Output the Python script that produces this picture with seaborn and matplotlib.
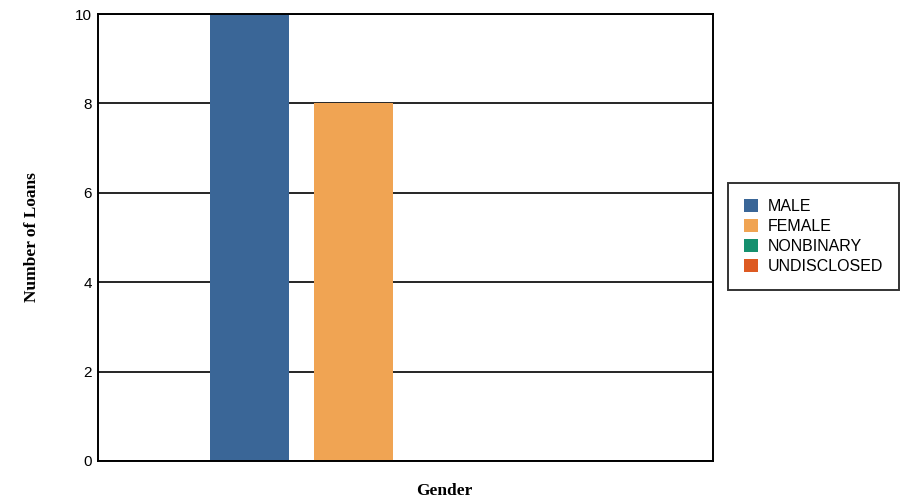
import pandas as pd
import matplotlib.pyplot as plt
import seaborn as sns

# Loans by gender
genders = ['MALE', 'FEMALE', 'NONBINARY', 'UNDISCLOSED']
loan_counts = [10, 8, 0, 0]
colors = ['#3a6697', '#f0a453', '#15906e', '#dd5a22']

df = pd.DataFrame({'group': [''] * len(genders), 'gender': genders, 'loans': loan_counts})

sns.set_style('white')
plt.rcParams['font.family'] = ['Liberation Sans', 'DejaVu Sans']
plt.rcParams['text.color'] = 'black'
plt.rcParams['ytick.color'] = 'black'

fig = plt.figure(figsize=(9.15, 5.01), dpi=100)
ax = fig.add_axes([98 / 915, 1 - 461 / 501, 615 / 915, 447 / 501])

sns.barplot(data=df, x='group', y='loans', hue='gender', hue_order=genders,
            palette=colors, width=0.676, gap=0.24, saturation=1, linewidth=0, ax=ax)

ax.set_ylim(0, 10)
ax.set_yticks([0, 2, 4, 6, 8, 10])
ax.set_xticks([])
ax.tick_params(axis='y', length=0, labelsize=11, pad=4.5, labelcolor='black')
ax.yaxis.grid(True, color='black', linewidth=1.2)
ax.set_axisbelow(True)
for s in ax.spines.values():
    s.set_color('black')
    s.set_linewidth(1.4)

ax.set_xlabel('Gender', fontfamily='Liberation Serif', fontweight='bold', fontsize=12.5, color='black')
ax.xaxis.set_label_coords(0.563, -0.05)
ax.set_ylabel('Number of Loans', fontfamily='Liberation Serif', fontweight='bold', fontsize=12.5, color='black')
ax.yaxis.set_label_coords(-0.094, 0.5)

leg = ax.legend(loc='upper left', bbox_to_anchor=(728 / 915, 1 - 183 / 501),
                bbox_transform=fig.transFigure, fontsize=11.5, fancybox=False,
                handlelength=0.85, handleheight=0.85, handletextpad=0.65,
                labelspacing=0.32, borderpad=1.0, borderaxespad=0)
leg.get_frame().set_edgecolor('black')
leg.get_frame().set_linewidth(1.4)

plt.savefig('out.png', dpi=100)
plt.close()
